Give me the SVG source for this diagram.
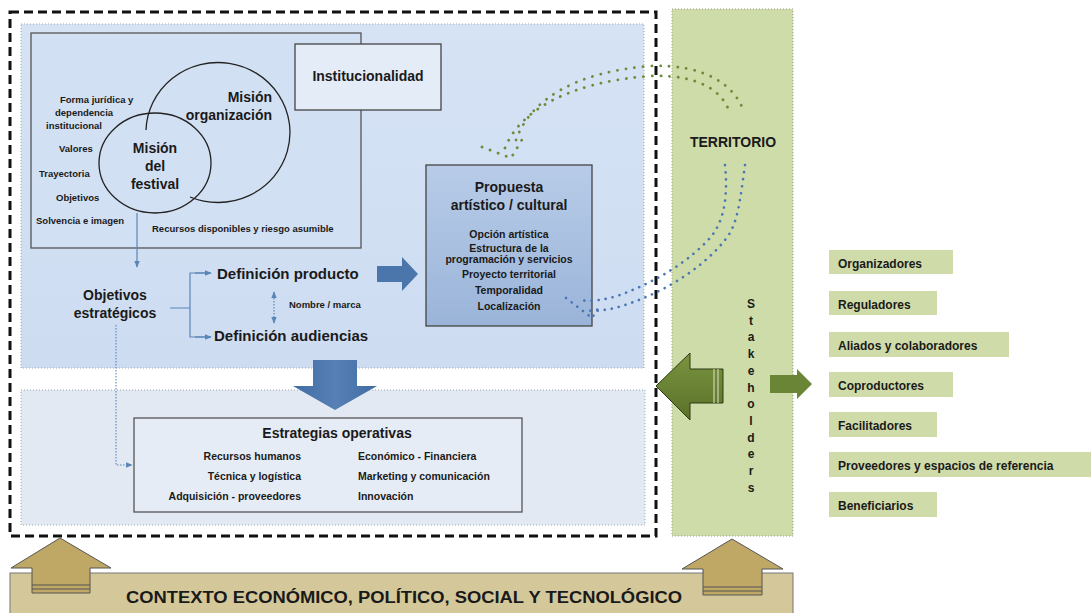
<svg xmlns="http://www.w3.org/2000/svg" width="1091" height="613" viewBox="0 0 1091 613">
<style>
text{font-family:"Liberation Sans",Arial,sans-serif;font-weight:bold;fill:#1a1a1a}
.s{font-size:9.5px}
.m{font-size:10.5px}
.l{font-size:14px}
.t{font-size:15px}
.st{font-size:12px}
.c{text-anchor:middle}
.r{text-anchor:end}
.sk{fill:#cfdba8}
.bl{stroke:#5a85b8;stroke-width:1.2;fill:none}
.gd{fill:none;stroke:#6f8a3a;stroke-width:2.8;stroke-linecap:round;stroke-dasharray:0.1 8.5}
.bd{fill:none;stroke:#4b76b5;stroke-width:2.6;stroke-linecap:round;stroke-dasharray:0.1 7}
</style>
<defs>
<marker id="ah" viewBox="0 0 10 10" refX="9" refY="5" markerWidth="6" markerHeight="6" orient="auto-start-reverse"><path d="M0,1 L10,5 L0,9 z" fill="#5a85b8"/></marker>
<linearGradient id="pg" x1="0" y1="0" x2="0" y2="1"><stop offset="0" stop-color="#b8cce8"/><stop offset="1" stop-color="#9ab4d9"/></linearGradient>
<linearGradient id="ub" x1="0" y1="0" x2="0" y2="1"><stop offset="0" stop-color="#d6e3f5"/><stop offset="1" stop-color="#cddcf1"/></linearGradient>
<linearGradient id="ba" x1="0" y1="0" x2="1" y2="0"><stop offset="0" stop-color="#3f6ca3"/><stop offset="0.5" stop-color="#5781b5"/><stop offset="1" stop-color="#3f6ca3"/></linearGradient>
<linearGradient id="ga" x1="0" y1="0" x2="0" y2="1"><stop offset="0" stop-color="#7a9440"/><stop offset="1" stop-color="#5a7128"/></linearGradient>
</defs>

<g id="territorio">
<rect x="672" y="9" width="121" height="527" fill="#cedca9" stroke="#9a9a8a" stroke-width="1" stroke-dasharray="1 2"/>
<text class="l c" x="733" y="147">TERRITORIO</text>
<g class="st c">
<text x="751" y="308">S</text><text x="751" y="325">t</text><text x="751" y="341">a</text><text x="751" y="358">k</text><text x="751" y="375">e</text><text x="751" y="392">h</text><text x="751" y="408">o</text><text x="751" y="425">l</text><text x="751" y="442">d</text><text x="751" y="458">e</text><text x="751" y="475">r</text><text x="751" y="492">s</text>
</g>
</g>

<g id="contexto">
<rect x="10" y="573" width="783" height="45" fill="#d4c89a" stroke="#777" stroke-width="1"/>
<text x="404" y="603" class="c" font-size="16" textLength="556" lengthAdjust="spacingAndGlyphs">CONTEXTO ECONÓMICO, POLÍTICO, SOCIAL Y TECNOLÓGICO</text>
</g>

<g id="organizacion">
<rect x="10" y="12" width="646" height="524" fill="none" stroke="#111" stroke-width="3" stroke-dasharray="9 5"/>
<rect x="21" y="24" width="623" height="344" fill="url(#ub)" stroke="#9aa" stroke-width="1" stroke-dasharray="1 2"/>
<rect x="21" y="390" width="624" height="135" fill="#e2e9f3" stroke="#9aa" stroke-width="1" stroke-dasharray="1 2"/>
</g>

<g id="mision">
<rect x="31" y="33" width="330" height="215" fill="#d2e0f3" stroke="#555" stroke-width="1.3"/>
<path d="M146,130 A72,70 0 1 1 190,197" fill="none" stroke="#222" stroke-width="1.3"/>
<ellipse cx="155" cy="163" rx="56" ry="50" fill="none" stroke="#222" stroke-width="1.3"/>
<text class="l r" x="272" y="102">Misión</text>
<text class="l r" x="272" y="120">organización</text>
<text class="l c" x="155" y="153">Misión</text>
<text class="l c" x="155" y="171">del</text>
<text class="l c" x="155" y="189">festival</text>
<text class="s" x="60" y="103">Forma jurídica y</text>
<text class="s" x="55" y="116">dependencia</text>
<text class="s" x="46" y="129">institucional</text>
<text class="s" x="59" y="152">Valores</text>
<text class="s" x="39" y="177">Trayectoria</text>
<text class="s" x="56" y="201">Objetivos</text>
<text class="s" x="36" y="224">Solvencia e imagen</text>
<text class="s" x="152" y="232">Recursos disponibles y riesgo asumible</text>
</g>

<g id="institucionalidad">
<rect x="295" y="44" width="146" height="66" fill="#e4ecf8" stroke="#444" stroke-width="1.3"/>
<text class="l c" x="368" y="81">Institucionalidad</text>
</g>

<g id="propuesta">
<rect x="426" y="165" width="166" height="161" fill="url(#pg)" stroke="#444" stroke-width="1.3"/>
<text class="l c" x="509" y="192">Propuesta</text>
<text class="l c" x="509" y="210">artístico / cultural</text>
<g class="m c">
<text x="509" y="238">Opción artística</text>
<text x="509" y="252">Estructura de la</text>
<text x="509" y="263">programación y servicios</text>
<text x="509" y="278">Proyecto territorial</text>
<text x="509" y="294">Temporalidad</text>
<text x="509" y="310">Localización</text>
</g>
</g>

<g id="objetivos">
<text class="l c" x="115" y="300">Objetivos</text>
<text class="l c" x="115" y="318">estratégicos</text>
</g>
<g id="producto"><text class="t" x="217" y="279">Definición producto</text></g>
<g id="audiencias"><text class="t" x="214" y="341">Definición audiencias</text></g>
<g id="marca"><text class="s" x="289" y="308">Nombre / marca</text></g>

<g id="estrategias">
<rect x="134" y="418" width="388" height="94" fill="#e6ecf5" stroke="#555" stroke-width="1.3"/>
<text class="l c" x="337" y="438">Estrategias operativas</text>
<g class="m">
<text class="r" x="301" y="460">Recursos humanos</text>
<text class="r" x="301" y="480">Técnica y logística</text>
<text class="r" x="301" y="500">Adquisición - proveedores</text>
<text x="358" y="460">Económico - Financiera</text>
<text x="358" y="480">Marketing y comunicación</text>
<text x="358" y="500">Innovación</text>
</g>
</g>

<g id="stakeholders">
<rect class="sk" x="829" y="250" width="124" height="24"/><text class="st" x="838" y="268">Organizadores</text>
<rect class="sk" x="829" y="291" width="108" height="24"/><text class="st" x="838" y="309">Reguladores</text>
<rect class="sk" x="829" y="332" width="180" height="25"/><text class="st" x="838" y="350">Aliados y colaboradores</text>
<rect class="sk" x="829" y="372" width="124" height="25"/><text class="st" x="838" y="390">Coproductores</text>
<rect class="sk" x="829" y="412" width="108" height="25"/><text class="st" x="838" y="430">Facilitadores</text>
<rect class="sk" x="829" y="452" width="262" height="25"/><text class="st" x="838" y="470">Proveedores y espacios de referencia</text>
<rect class="sk" x="829" y="492" width="108" height="25"/><text class="st" x="838" y="510">Beneficiarios</text>
</g>

<g id="connectors">
<line class="bl" x1="137" y1="213" x2="137" y2="267" marker-end="url(#ah)"/>
<path class="bl" d="M170,308 H190 M210,273 H190 V337 H210"/>
<line class="bl" x1="195" y1="273" x2="211" y2="273" marker-end="url(#ah)"/>
<line class="bl" x1="195" y1="337" x2="211" y2="337" marker-end="url(#ah)"/>
<line x1="274" y1="292" x2="274" y2="323" stroke="#5a85b8" stroke-width="1.2" stroke-dasharray="1.5 1.5" marker-start="url(#ah)" marker-end="url(#ah)"/>
<path d="M116,325 V465 H132" fill="none" stroke="#5a85b8" stroke-width="1.1" stroke-dasharray="1.5 1.5" marker-end="url(#ah)"/>
<path d="M377,266 H402 V257 L418,274 L402,291 V282 H377 Z" fill="#4a76ab"/>
<path d="M313,360 H357 V386 H377 L335,410 L293,386 H313 Z" fill="url(#ba)"/>
<path d="M656,386 L690,353 V369 H723 V403 H690 V420 Z" fill="url(#ga)" stroke="#2e3a14" stroke-width="1"/>
<path d="M714,369 V403 M718,369 V403" stroke="#dfe6c8" stroke-width="1"/>
<path d="M770,375 H797 V369 L812,384 L797,399 V393 H770 Z" fill="#6b8537"/>
<path d="M60,538 L111,568 H90 V593 H32 V568 H11 Z" fill="#bfa865" stroke="#555" stroke-width="1"/>
<path d="M32,585 H90 M32,589 H90" stroke="#555" stroke-width="1.2"/>
<path d="M732,539 L783,569 H762 V595 H703 V569 H682 Z" fill="#bfa865" stroke="#555" stroke-width="1"/>
<path d="M703,587 H762 M703,591 H762" stroke="#555" stroke-width="1.2"/>
<path class="gd" d="M516,140 C530,100 575,72 650,66 C705,64 735,85 744,112"/>
<path class="gd" d="M505,148 C520,110 570,82 650,76 C700,74 724,92 730,114"/>
<path class="gd" d="M482,147 L511,158 L523,138"/>
<path class="bd" d="M745,165 C740,200 738,225 725,240 C705,265 670,290 625,305 C610,310 595,312 585,310"/>
<path class="bd" d="M725,165 C728,195 725,220 710,238 C690,260 660,280 620,295 C605,300 590,302 580,300"/>
<path class="bd" d="M566,298 L592,318 L600,305"/>
</g>
</svg>
